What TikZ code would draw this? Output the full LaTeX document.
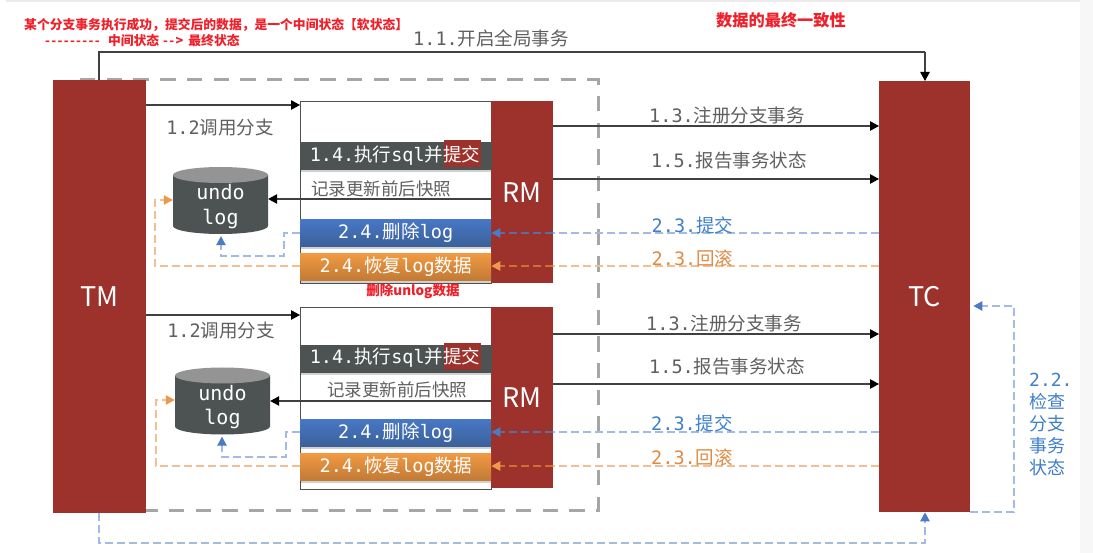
\documentclass[tikz,border=0pt]{standalone}
\usepackage{fontspec}
\usetikzlibrary{arrows.meta,shapes.geometric,shadows}
\setmainfont{Noto Sans CJK SC}
\newfontfamily\latf{DejaVu Sans Mono}
\newcommand{\lt}[1]{{\latf #1}}
\newcommand{\hy}{-\kern1.3pt}
\definecolor{brick}{HTML}{9C322B}
\definecolor{inkgray}{HTML}{5F5F5F}
\definecolor{barblack}{HTML}{4D5352}
\definecolor{paleblue}{HTML}{A3BBE3}
\definecolor{paleorange}{HTML}{F3BE90}
\definecolor{darkblue}{HTML}{5A6F9E}
\definecolor{darkorange}{HTML}{D0702F}
\definecolor{tipblue}{HTML}{4A7BC4}
\definecolor{tiporange}{HTML}{EE9A4D}
\definecolor{txtblue}{HTML}{3F7FCB}
\definecolor{txtorange}{HTML}{E08A42}
\definecolor{alert}{HTML}{F0202A}
\definecolor{bluetop}{HTML}{4777C6}
\definecolor{bluebot}{HTML}{3B6199}
\definecolor{orangetop}{HTML}{F19A42}
\definecolor{orangebot}{HTML}{C27A36}
\tikzset{
  x=1pt,y=-1pt,
  redblock/.style={fill=brick,draw=none,inner sep=0pt,anchor=north west,text=white,font=\fontsize{27}{30}\selectfont},
  barbase/.style={inner sep=0pt,anchor=north west,minimum width=191pt,minimum height=27pt,text=white,font=\fontsize{18.5}{20}\selectfont,drop shadow={shadow xshift=0pt,shadow yshift=-2.5pt,fill=black,opacity=.18}},
  darkbar/.style={barbase,fill=barblack,draw=barblack},
  bluebar/.style={barbase,top color=bluetop,bottom color=bluebot},
  orangebar/.style={barbase,top color=orangetop,bottom color=orangebot},
  lbl/.style={text=inkgray,font=\fontsize{18.5}{20}\selectfont,inner sep=0pt,yshift=-1pt},
  lblblue/.style={lbl,text=txtblue},
  lblorange/.style={lbl,text=txtorange},
  redtxt/.style={text=alert,inner sep=0pt,font=\bfseries\fontsize{12.8}{14}\selectfont},
  solidarrow/.style={draw=black!75,line width=1.1pt,-{Triangle[length=9pt,width=9.5pt,color=black,fill=black]}},
  bluearrow/.style={draw=paleblue,line width=1.1pt,dash pattern=on 8pt off 4pt,-{Triangle[length=9pt,width=9.5pt,color=tipblue,fill=tipblue]}},
  orangearrow/.style={draw=paleorange,line width=1.1pt,dash pattern=on 8pt off 4pt,-{Triangle[length=9pt,width=9.5pt,color=tiporange,fill=tiporange]}},
  panel/.style={draw=barblack,line width=1.3pt,fill=white,inner sep=0pt,anchor=north west,minimum width=191pt,minimum height=182pt},
  undolog/.style={rectangle,draw=none,inner sep=0pt,minimum width=95pt,minimum height=67pt,text=white,align=center,font=\latf\fontsize{20}{24.5}\selectfont,
    path picture={
      \fill[barblack] ([yshift=-8pt]path picture bounding box.north west) -- ([yshift=8pt]path picture bounding box.south west)
        arc[start angle=180,end angle=360,x radius=47.5pt,y radius=8pt] -- ([yshift=-8pt]path picture bounding box.north east) -- cycle;
      \fill[black!42] ([yshift=-8pt]path picture bounding box.north) ellipse[x radius=47.5pt,y radius=8pt];
    }},
  hilite/.style={fill=brick,inner sep=0pt,anchor=north west,minimum width=37pt,minimum height=27pt}
}
\begin{document}
\begin{tikzpicture}
\useasboundingbox (0,0) rectangle (1093,553);
\fill[white] (0,0) rectangle (1093,553);
\fill[black!8] (6,0) rectangle (1080,2);
\fill[black!3] (1080,0) rectangle (1093,553);

% dashed frame
\draw[draw=black!35,line width=3pt,dash pattern=on 15.4pt off 11.3pt] (80,80) -- (598,80) -- (598,510) -- (80,510);

% upper panel
\node[panel] (p1) at (300,101) {};
\node[redblock,minimum width=62pt,minimum height=182pt] (rm1) at (491,101) {RM};
\node[darkbar] (d1) at (300,142) {};
\node[hilite] (h1) at (444,140) {};
\node[lbl,text=white] (d1t) at (395,155) {\lt{1.4.}执行\lt{sql}并提交};
\node[bluebar] (b1) at (300,219) {\raisebox{-1pt}{\lt{2.4.}删除\lt{log}}};
\node[orangebar] (o1) at (300,253) {\raisebox{-1pt}{\lt{2.4.}恢复\lt{log}数据}};
\node[lbl,font=\fontsize{17.5}{20}\selectfont] (r1) at (381,188) {记录更新前后快照};
\node[undolog] (u1) at (220.5,200.5) {\rule{0pt}{27pt}undo\\log};

% lower panel
\node[panel] (p2) at (300,307) {};
\node[redblock,minimum width=62pt,minimum height=181pt] (rm2) at (491,307) {RM};
\node[darkbar] (d2) at (300,345) {};
\node[hilite] (h2) at (444,343) {};
\node[lbl,text=white] (d2t) at (395,357) {\lt{1.4.}执行\lt{sql}并提交};
\node[bluebar] (b2) at (300,419) {\raisebox{-1pt}{\lt{2.4.}删除\lt{log}}};
\node[orangebar] (o2) at (300,453) {\raisebox{-1pt}{\lt{2.4.}恢复\lt{log}数据}};
\node[lbl,font=\fontsize{17.5}{20}\selectfont] (r2) at (397,389) {记录更新前后快照};
\node[undolog] (u2) at (222.5,401) {\rule{0pt}{27pt}undo\\log};

% TM / TC
\node[redblock,minimum width=93pt,minimum height=433pt] (tm) at (53,80) {TM};
\node[redblock,minimum width=91pt,minimum height=431pt] (tc) at (879,81) {TC};

% waypoints
\coordinate (w11a) at (99,52);
\coordinate (w11b) at (925,52);
\coordinate (wb1) at (284,233);
\coordinate (wb2) at (221,256);
\coordinate (wb3) at (286,432);
\coordinate (wb4) at (222,457);
\coordinate (wo1) at (155,266);
\coordinate (wo2) at (156,466);
\coordinate (wc1) at (1014,512);
\coordinate (wc2) at (1014,306);
\coordinate (wd1) at (99,543);
\coordinate (wd2) at (925,543);

% solid connectors
\draw[solidarrow,-] (tm.north -| w11a) -- (w11a) -- (w11b);
\draw[solidarrow] (w11b) -- (tc.north -| w11b);
\draw[solidarrow] (tm.east |- 0,105) -- (p1.west |- 0,105);
\draw[solidarrow] (tm.east |- 0,315) -- (p2.west |- 0,315);
\draw[solidarrow] (rm1.east |- 0,126) -- (tc.west |- 0,126);
\draw[solidarrow] (rm1.east |- 0,179) -- (tc.west |- 0,179);
\draw[solidarrow] (rm2.east |- 0,334) -- (tc.west |- 0,334);
\draw[solidarrow] (rm2.east |- 0,384) -- (tc.west |- 0,384);
\draw[solidarrow] (rm1.west |- 0,199) -- (u1.east |- 0,199);
\draw[solidarrow] (rm2.west |- 0,401) -- (u2.east |- 0,401);

% dashed connectors (the stretch over each RM block reads darker)
\draw[bluearrow,-] (tc.west |- 0,233) -- (rm1.east |- 0,233);
\draw[bluearrow,draw=darkblue] (rm1.east |- 0,233) -- (b1.east |- 0,233);
\draw[orangearrow,-] (tc.west |- 0,266) -- (rm1.east |- 0,266);
\draw[orangearrow,draw=darkorange] (rm1.east |- 0,266) -- (o1.east |- 0,266);
\draw[bluearrow,-] (tc.west |- 0,432) -- (rm2.east |- 0,432);
\draw[bluearrow,draw=darkblue] (rm2.east |- 0,432) -- (b2.east |- 0,432);
\draw[orangearrow,-] (tc.west |- 0,466) -- (rm2.east |- 0,466);
\draw[orangearrow,draw=darkorange] (rm2.east |- 0,466) -- (o2.east |- 0,466);

\draw[bluearrow] (b1.west |- wb1) -- (wb1) |- (wb2) -- ([yshift=-2pt]u1.south -| wb2);
\draw[orangearrow] (o1.west |- wo1) -- (wo1) |- (u1.west |- 0,200);
\draw[bluearrow] (b2.west |- wb3) -- (wb3) |- (wb4) -- ([yshift=-2pt]u2.south -| wb4);
\draw[orangearrow] (o2.west |- wo2) -- (wo2) |- (u2.west |- 0,400);

\draw[bluearrow] (tc.south east |- wc1) -- (wc1) -- (wc2) -- ([xshift=3pt]tc.east |- wc2);
\draw[bluearrow] (tm.south -| wd1) -- (wd1) -- (wd2) -- (tc.south -| wd2);

% labels
\node[lbl] (l11) at (491,37.5) {\lt{1.1.}开启全局事务};
\node[lbl] (l12a) at (220,127) {\lt{1.2}调用分支};
\node[lbl] (l12b) at (221,330) {\lt{1.2}调用分支};
\node[lbl] (l13a) at (727,114) {\lt{1.3.}注册分支事务};
\node[lbl] (l15a) at (729,160) {\lt{1.5.}报告事务状态};
\node[lblblue] (l23a) at (692.5,224) {\lt{2.3.}提交};
\node[lblorange] (l24a) at (692.5,257) {\lt{2.3.}回滚};
\node[lbl] (l13b) at (724,322) {\lt{1.3.}注册分支事务};
\node[lbl] (l15b) at (727,365.5) {\lt{1.5.}报告事务状态};
\node[lblblue] (l23b) at (692,422) {\lt{2.3.}提交};
\node[lblorange] (l24b) at (692,456) {\lt{2.3.}回滚};
\node[lblblue,anchor=north west,align=left,font=\fontsize{18}{22}\selectfont] (l22) at (1029,372) {\lt{2.2.}\\检查\\分支\\事务\\状态};

% red annotations
\node[redtxt,anchor=west] (n1) at (24,25) {某个分支事务执行成功，提交后的数据，是一个中间状态【软状态】};
\node[redtxt,anchor=west] (n2) at (45,41) {\hy\hy\hy\hy\hy\hy\hy\hy\hy\hspace{7pt}中间状态\hspace{4pt}\hy\hy>\hspace{5pt}最终状态};
\node[redtxt,font=\bfseries\fontsize{16.2}{18}\selectfont] (n3) at (781,20) {数据的最终一致性};
\node[redtxt,font=\bfseries\fontsize{13.5}{15}\selectfont] (n4) at (413,291) {删除unlog数据};
\end{tikzpicture}
\end{document}
